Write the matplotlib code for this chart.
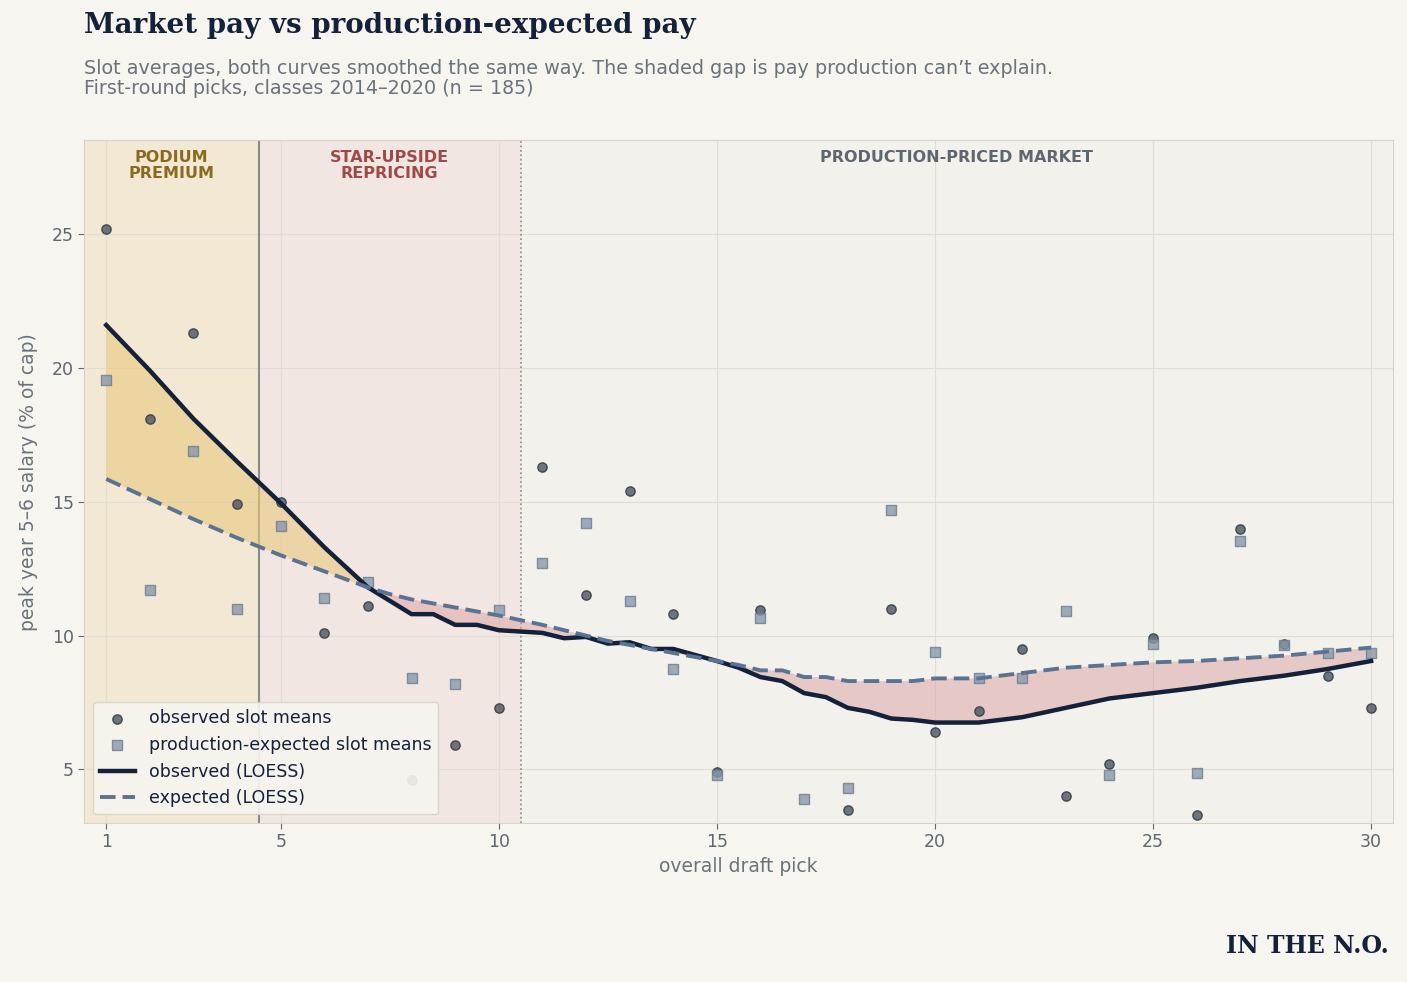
import numpy as np
import matplotlib.pyplot as plt

picks = np.arange(1, 31)
observed = [25.2,18.1,21.3,14.9,15.0,10.1,11.1,4.6,5.9,7.3,16.3,11.5,15.4,10.8,4.9,10.95,np.nan,3.5,11.0,6.4,7.2,9.5,4.0,5.2,9.9,3.3,14.0,9.7,8.5,7.3]
expected = [19.55,11.7,16.9,11.0,14.1,11.4,12.0,8.4,8.2,10.95,12.7,14.2,11.3,8.75,4.8,10.65,3.9,4.3,14.7,9.4,8.4,8.4,10.9,4.8,9.7,4.85,13.55,9.65,9.35,9.35]

loess_x = [1,2,3,4,5,6,7,7.5,8,8.5,9,9.5,10,11,11.5,12,12.5,13,13.5,14,15,15.5,16,16.5,17,17.5,18,18.5,19,19.5,20,21,21.5,22,23,24,25,26,27,28,29,30]
loess_obs = [21.6,19.9,18.1,16.5,14.95,13.3,11.8,11.3,10.8,10.8,10.4,10.4,10.2,10.1,9.9,9.95,9.7,9.75,9.5,9.5,9.05,8.8,8.45,8.3,7.85,7.7,7.3,7.15,6.9,6.85,6.75,6.75,6.85,6.95,7.3,7.65,7.85,8.05,8.3,8.5,8.75,9.05]
loess_exp = [15.85,15.1,14.35,13.65,13.0,12.4,11.8,11.55,11.35,11.2,11.05,10.9,10.75,10.4,10.2,10.0,9.8,9.65,9.5,9.35,9.05,8.9,8.7,8.7,8.45,8.45,8.3,8.3,8.3,8.3,8.4,8.4,8.5,8.6,8.8,8.9,9.0,9.05,9.15,9.25,9.4,9.55]

BG = '#f7f5f0'
fig = plt.figure(figsize=(14.07, 9.82), dpi=100, facecolor=BG)
ax = fig.add_axes([0.06, 0.162, 0.93, 0.695])
ax.set_facecolor(BG)
ax.set_xlim(0.5, 30.5); ax.set_ylim(3.0, 28.5)
ax.axvspan(0.5, 4.5, color='#f2e8d4', zorder=0)
ax.axvspan(4.5, 10.5, color='#f2e6e2', zorder=0)
ax.axvspan(10.5, 30.5, color='#f2f1ec', zorder=0)
ax.grid(color='#e0ddd5', lw=0.8, zorder=0.5)
ax.set_axisbelow(True)
ax.axvline(4.5, color='#8a8a8a', lw=1.5, zorder=1)
ax.axvline(10.5, color='#8a8a8a', lw=1.2, ls=':', zorder=1)

lx = np.array(loess_x); lo = np.array(loess_obs); le = np.array(loess_exp)
ax.fill_between(lx, lo, le, where=lo >= le, interpolate=True, color='#e8c980', alpha=0.6, lw=0, zorder=1.5)
ax.fill_between(lx, lo, le, where=lo < le, interpolate=True, color='#d89a98', alpha=0.45, lw=0, zorder=1.5)

ax.scatter(picks, observed, s=45, color='#4a5560', alpha=0.8, edgecolor='#2a3540', lw=1, zorder=3, label='observed slot means')
ax.scatter(picks, expected, s=55, marker='s', color='#8899aa', alpha=0.8, edgecolor='#6a7d92', lw=1, zorder=3, label='production-expected slot means')
ax.plot(lx, lo, color='#13213a', lw=3.2, zorder=4, label='observed (LOESS)')
ax.plot(lx, le, color='#5a7393', lw=2.8, ls=(0, (4, 1.8)), zorder=4, label='expected (LOESS)')

for x, t, c in [(2.5, 'PODIUM\nPREMIUM', '#8a6a1e'), (7.5, 'STAR-UPSIDE\nREPRICING', '#a04a48'), (20.5, 'PRODUCTION-PRICED MARKET', '#5e6670')]:
    ax.text(x, 28.15, t, ha='center', va='top', fontsize=11.5, fontweight='bold', color=c, linespacing=1.1)

ax.set_xticks([1, 5, 10, 15, 20, 25, 30])
ax.set_yticks([5, 10, 15, 20, 25])
ax.tick_params(colors='#5e6670', labelsize=12.5, length=4)
for s in ax.spines.values():
    s.set_color('#d8d4c4')
ax.set_xlabel('overall draft pick', fontsize=13.5, color='#6a727c')
ax.set_ylabel('peak year 5–6 salary (% of cap)', fontsize=13.5, color='#6a727c', labelpad=10)
leg = ax.legend(loc='lower left', fontsize=12.5, frameon=True, facecolor=BG, edgecolor='#d8d4c4', labelcolor='#13213a')
leg.get_frame().set_alpha(0.9)

fig.text(0.06, 0.988, 'Market pay vs production-expected pay', fontsize=20, fontweight='bold', family='DejaVu Serif', color='#13213a', va='top')
fig.text(0.06, 0.94, 'Slot averages, both curves smoothed the same way. The shaded gap is pay production can’t explain.\nFirst-round picks, classes 2014–2020 (n = 185)', fontsize=13.8, color='#6a727c', va='top', linespacing=1.1)
fig.text(0.987, 0.03, 'IN THE N.O.', fontsize=17, fontweight='bold', family='DejaVu Serif', color='#13213a', ha='right')
fig.savefig('out.png', dpi=100, facecolor=BG)
